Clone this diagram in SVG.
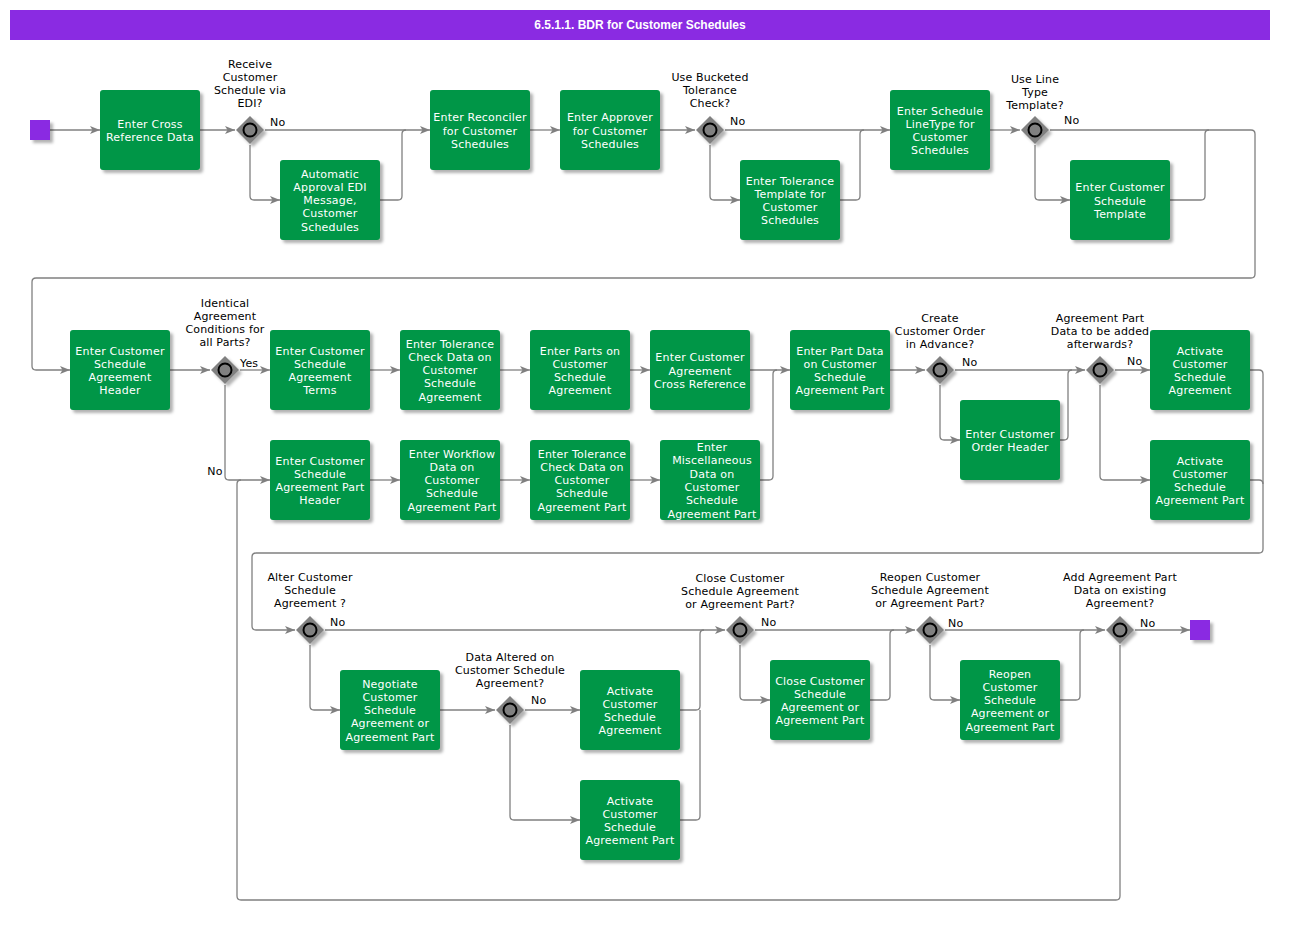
<svg xmlns="http://www.w3.org/2000/svg" width="1305" height="931" viewBox="0 0 1305 931">
<defs>
<style>
.node rect{fill:#009647;}
.nt{font-family:"DejaVu Sans",Verdana,sans-serif;font-size:11px;letter-spacing:0.2px;fill:#ffffff;text-anchor:middle;}
.lb{font-family:"DejaVu Sans",Verdana,sans-serif;font-size:11px;letter-spacing:0.15px;fill:#000000;text-anchor:middle;}
.ls{font-family:"DejaVu Sans",Verdana,sans-serif;font-size:11px;letter-spacing:0.15px;fill:#000000;text-anchor:start;}
.gw polygon{fill:#808080;}
.gw circle{fill:#808080;stroke:#000000;stroke-width:2;}
.ev{fill:#8A2BE2;}
#connectors path{fill:none;stroke:#808080;stroke-width:1.3;}
.a{marker-end:url(#arr);}
</style>
<filter id="sh" x="-20%" y="-20%" width="150%" height="150%">
<feDropShadow dx="3" dy="3" stdDeviation="1.8" flood-color="#000" flood-opacity="0.3"/>
</filter>
<marker id="arr" viewBox="0 0 10 8" refX="10" refY="4" markerWidth="10" markerHeight="8" markerUnits="userSpaceOnUse" orient="auto">
<path d="M0,0 L10,4 L0,8 L2.5,4 z" fill="#808080"/>
</marker>
</defs>
<rect width="1305" height="931" fill="#ffffff"/>
<g id="title">
<rect x="10" y="10" width="1260" height="30" fill="#8A2BE2"/>
<text x="640" y="29" font-family="Liberation Sans,Arial,sans-serif" font-size="12" font-weight="bold" fill="#ffffff" text-anchor="middle">6.5.1.1. BDR for Customer Schedules</text>
</g>

<g id="connectors">
<path class="a" d="M50,130 H100"/>
<path class="a" d="M200,130 H235"/>
<path class="a" d="M265,130 H430"/>
<path class="a" d="M250,145 V196 Q250,200 254,200 H280"/>
<path d="M380,200 H398 Q402,200 402,196 V134 Q402,130 406,130"/>
<path class="a" d="M530,130 H560"/>
<path class="a" d="M660,130 H695"/>
<path class="a" d="M725,130 H890"/>
<path class="a" d="M710,145 V196 Q710,200 714,200 H740"/>
<path d="M840,200 H856 Q860,200 860,196 V134 Q860,130 864,130"/>
<path class="a" d="M990,130 H1020"/>
<path class="a" d="M1050,130 H1251 Q1255,130 1255,134 V274 Q1255,278 1251,278 H36 Q32,278 32,282 V366 Q32,370 36,370 H70"/>
<path class="a" d="M1035,145 V196 Q1035,200 1039,200 H1070"/>
<path d="M1170,200 H1201 Q1205,200 1205,196 V134 Q1205,130 1209,130"/>
<path class="a" d="M170,370 H210"/>
<path class="a" d="M240,370 H270"/>
<path class="a" d="M225,385 V476 Q225,480 229,480 H270"/>
<path class="a" d="M370,370 H400"/>
<path class="a" d="M500,370 H530"/>
<path class="a" d="M630,370 H650"/>
<path class="a" d="M750,370 H790"/>
<path class="a" d="M370,480 H400"/>
<path class="a" d="M500,480 H530"/>
<path class="a" d="M630,480 H660"/>
<path d="M760,480 H769 Q773,480 773,476 V374 Q773,370 777,370"/>
<path class="a" d="M890,370 H925"/>
<path class="a" d="M955,370 H1085"/>
<path class="a" d="M940,385 V436 Q940,440 944,440 H960"/>
<path d="M1060,440 H1064 Q1068,440 1068,436 V374 Q1068,370 1072,370"/>
<path class="a" d="M1115,370 H1150"/>
<path class="a" d="M1100,385 V476 Q1100,480 1104,480 H1150"/>
<path class="a" d="M1250,370 H1259 Q1263,370 1263,374 V549 Q1263,553 1259,553 H256 Q252,553 252,557 V626 Q252,630 256,630 H295"/>
<path d="M1250,480 H1259 Q1263,480 1263,484"/>
<path class="a" d="M325,630 H725"/>
<path class="a" d="M310,645 V706 Q310,710 314,710 H340"/>
<path class="a" d="M440,710 H495"/>
<path class="a" d="M525,710 H580"/>
<path class="a" d="M510,725 V816 Q510,820 514,820 H580"/>
<path d="M680,710 H696 Q700,710 700,706 V634 Q700,630 704,630"/>
<path d="M680,820 H696 Q700,820 700,816 V710"/>
<path class="a" d="M755,630 H915"/>
<path class="a" d="M740,645 V696 Q740,700 744,700 H770"/>
<path d="M870,700 H886 Q890,700 890,696 V634 Q890,630 894,630"/>
<path class="a" d="M945,630 H1105"/>
<path class="a" d="M930,645 V696 Q930,700 934,700 H960"/>
<path d="M1060,700 H1076 Q1080,700 1080,696 V634 Q1080,630 1084,630"/>
<path class="a" d="M1135,630 H1190"/>
<path d="M1120,645 V896 Q1120,900 1116,900 H241 Q237,900 237,896 V484 Q237,480 241,480"/>
</g>

<g id="connector-labels">
<text class="ls" x="270" y="126">No</text>
<text class="ls" x="730" y="125">No</text>
<text class="ls" x="1064" y="124">No</text>
<text class="ls" x="240" y="367">Yes</text>
<text class="lb" x="215" y="475">No</text>
<text class="ls" x="962" y="366">No</text>
<text class="ls" x="1127" y="365">No</text>
<text class="ls" x="330" y="626">No</text>
<text class="ls" x="531" y="704">No</text>
<text class="ls" x="761" y="626">No</text>
<text class="ls" x="948" y="627">No</text>
<text class="ls" x="1140" y="627">No</text>
</g>

<g id="start"><rect class="ev" x="30" y="120" width="20" height="20" filter="url(#sh)"/></g>
<g id="end"><rect class="ev" x="1190" y="620" width="20" height="20" filter="url(#sh)"/></g>

<g id="n1" class="node"><rect x="100" y="90" width="100" height="80" rx="3" filter="url(#sh)"/>
<text class="nt" x="150" y="128">Enter Cross</text><text class="nt" x="150" y="141">Reference Data</text></g>
<g id="g1" class="gw"><polygon points="250,116 264,130 250,144 236,130" filter="url(#sh)"/><circle cx="250" cy="130" r="6.5"/>
<text class="lb" x="250" y="68">Receive</text><text class="lb" x="250" y="81">Customer</text><text class="lb" x="250" y="94">Schedule via</text><text class="lb" x="250" y="107">EDI?</text></g>
<g id="n2" class="node"><rect x="280" y="160" width="100" height="80" rx="3" filter="url(#sh)"/>
<text class="nt" x="330" y="177.5">Automatic</text><text class="nt" x="330" y="190.8">Approval EDI</text><text class="nt" x="330" y="204.1">Message,</text><text class="nt" x="330" y="217.4">Customer</text><text class="nt" x="330" y="230.7">Schedules</text></g>
<g id="n3" class="node"><rect x="430" y="90" width="100" height="80" rx="3" filter="url(#sh)"/>
<text class="nt" x="480" y="121.2">Enter Reconciler</text><text class="nt" x="480" y="134.5">for Customer</text><text class="nt" x="480" y="147.8">Schedules</text></g>
<g id="n4" class="node"><rect x="560" y="90" width="100" height="80" rx="3" filter="url(#sh)"/>
<text class="nt" x="610" y="121.2">Enter Approver</text><text class="nt" x="610" y="134.5">for Customer</text><text class="nt" x="610" y="147.8">Schedules</text></g>
<g id="g2" class="gw"><polygon points="710,116 724,130 710,144 696,130" filter="url(#sh)"/><circle cx="710" cy="130" r="6.5"/>
<text class="lb" x="710" y="81">Use Bucketed</text><text class="lb" x="710" y="94">Tolerance</text><text class="lb" x="710" y="107">Check?</text></g>
<g id="n5" class="node"><rect x="740" y="160" width="100" height="80" rx="3" filter="url(#sh)"/>
<text class="nt" x="790" y="184.5">Enter Tolerance</text><text class="nt" x="790" y="197.8">Template for</text><text class="nt" x="790" y="211.1">Customer</text><text class="nt" x="790" y="224.4">Schedules</text></g>
<g id="n6" class="node"><rect x="890" y="90" width="100" height="80" rx="3" filter="url(#sh)"/>
<text class="nt" x="940" y="114.5">Enter Schedule</text><text class="nt" x="940" y="127.8">LineType for</text><text class="nt" x="940" y="141.1">Customer</text><text class="nt" x="940" y="154.4">Schedules</text></g>
<g id="g3" class="gw"><polygon points="1035,116 1049,130 1035,144 1021,130" filter="url(#sh)"/><circle cx="1035" cy="130" r="6.5"/>
<text class="lb" x="1035" y="83">Use Line</text><text class="lb" x="1035" y="96">Type</text><text class="lb" x="1035" y="109">Template?</text></g>
<g id="n7" class="node"><rect x="1070" y="160" width="100" height="80" rx="3" filter="url(#sh)"/>
<text class="nt" x="1120" y="191.2">Enter Customer</text><text class="nt" x="1120" y="204.5">Schedule</text><text class="nt" x="1120" y="217.8">Template</text></g>

<g id="n8" class="node"><rect x="70" y="330" width="100" height="80" rx="3" filter="url(#sh)"/>
<text class="nt" x="120" y="354.5">Enter Customer</text><text class="nt" x="120" y="367.8">Schedule</text><text class="nt" x="120" y="381.1">Agreement</text><text class="nt" x="120" y="394.4">Header</text></g>
<g id="g4" class="gw"><polygon points="225,356 239,370 225,384 211,370" filter="url(#sh)"/><circle cx="225" cy="370" r="6.5"/>
<text class="lb" x="225" y="307">Identical</text><text class="lb" x="225" y="320">Agreement</text><text class="lb" x="225" y="333">Conditions for</text><text class="lb" x="225" y="346">all Parts?</text></g>
<g id="n9" class="node"><rect x="270" y="330" width="100" height="80" rx="3" filter="url(#sh)"/>
<text class="nt" x="320" y="354.5">Enter Customer</text><text class="nt" x="320" y="367.8">Schedule</text><text class="nt" x="320" y="381.1">Agreement</text><text class="nt" x="320" y="394.4">Terms</text></g>
<g id="n10" class="node"><rect x="400" y="330" width="100" height="80" rx="3" filter="url(#sh)"/>
<text class="nt" x="450" y="347.5">Enter Tolerance</text><text class="nt" x="450" y="360.8">Check Data on</text><text class="nt" x="450" y="374.1">Customer</text><text class="nt" x="450" y="387.4">Schedule</text><text class="nt" x="450" y="400.7">Agreement</text></g>
<g id="n11" class="node"><rect x="530" y="330" width="100" height="80" rx="3" filter="url(#sh)"/>
<text class="nt" x="580" y="354.5">Enter Parts on</text><text class="nt" x="580" y="367.8">Customer</text><text class="nt" x="580" y="381.1">Schedule</text><text class="nt" x="580" y="394.4">Agreement</text></g>
<g id="n12" class="node"><rect x="650" y="330" width="100" height="80" rx="3" filter="url(#sh)"/>
<text class="nt" x="700" y="361.2">Enter Customer</text><text class="nt" x="700" y="374.5">Agreement</text><text class="nt" x="700" y="387.8">Cross Reference</text></g>
<g id="n13" class="node"><rect x="790" y="330" width="100" height="80" rx="3" filter="url(#sh)"/>
<text class="nt" x="840" y="354.5">Enter Part Data</text><text class="nt" x="840" y="367.8">on Customer</text><text class="nt" x="840" y="381.1">Schedule</text><text class="nt" x="840" y="394.4">Agreement Part</text></g>
<g id="g5" class="gw"><polygon points="940,356 954,370 940,384 926,370" filter="url(#sh)"/><circle cx="940" cy="370" r="6.5"/>
<text class="lb" x="940" y="322">Create</text><text class="lb" x="940" y="335">Customer Order</text><text class="lb" x="940" y="348">in Advance?</text></g>
<g id="n14" class="node"><rect x="960" y="400" width="100" height="80" rx="3" filter="url(#sh)"/>
<text class="nt" x="1010" y="438">Enter Customer</text><text class="nt" x="1010" y="451">Order Header</text></g>
<g id="g6" class="gw"><polygon points="1100,356 1114,370 1100,384 1086,370" filter="url(#sh)"/><circle cx="1100" cy="370" r="6.5"/>
<text class="lb" x="1100" y="322">Agreement Part</text><text class="lb" x="1100" y="335">Data to be added</text><text class="lb" x="1100" y="348">afterwards?</text></g>
<g id="n15" class="node"><rect x="1150" y="330" width="100" height="80" rx="3" filter="url(#sh)"/>
<text class="nt" x="1200" y="354.5">Activate</text><text class="nt" x="1200" y="367.8">Customer</text><text class="nt" x="1200" y="381.1">Schedule</text><text class="nt" x="1200" y="394.4">Agreement</text></g>
<g id="n16" class="node"><rect x="1150" y="440" width="100" height="80" rx="3" filter="url(#sh)"/>
<text class="nt" x="1200" y="464.5">Activate</text><text class="nt" x="1200" y="477.8">Customer</text><text class="nt" x="1200" y="491.1">Schedule</text><text class="nt" x="1200" y="504.4">Agreement Part</text></g>
<g id="n17" class="node"><rect x="270" y="440" width="100" height="80" rx="3" filter="url(#sh)"/>
<text class="nt" x="320" y="464.5">Enter Customer</text><text class="nt" x="320" y="477.8">Schedule</text><text class="nt" x="320" y="491.1">Agreement Part</text><text class="nt" x="320" y="504.4">Header</text></g>
<g id="n18" class="node"><rect x="400" y="440" width="100" height="80" rx="3" filter="url(#sh)"/>
<text class="nt" x="452" y="457.5">Enter Workflow</text><text class="nt" x="452" y="470.8">Data on</text><text class="nt" x="452" y="484.1">Customer</text><text class="nt" x="452" y="497.4">Schedule</text><text class="nt" x="452" y="510.7">Agreement Part</text></g>
<g id="n19" class="node"><rect x="530" y="440" width="100" height="80" rx="3" filter="url(#sh)"/>
<text class="nt" x="582" y="457.5">Enter Tolerance</text><text class="nt" x="582" y="470.8">Check Data on</text><text class="nt" x="582" y="484.1">Customer</text><text class="nt" x="582" y="497.4">Schedule</text><text class="nt" x="582" y="510.7">Agreement Part</text></g>
<g id="n20" class="node"><rect x="660" y="440" width="100" height="80" rx="3" filter="url(#sh)"/>
<text class="nt" x="712" y="451">Enter</text><text class="nt" x="712" y="464.3">Miscellaneous</text><text class="nt" x="712" y="477.6">Data on</text><text class="nt" x="712" y="490.9">Customer</text><text class="nt" x="712" y="504.2">Schedule</text><text class="nt" x="712" y="517.5">Agreement Part</text></g>

<g id="g7" class="gw"><polygon points="310,616 324,630 310,644 296,630" filter="url(#sh)"/><circle cx="310" cy="630" r="6.5"/>
<text class="lb" x="310" y="581">Alter Customer</text><text class="lb" x="310" y="594">Schedule</text><text class="lb" x="310" y="607">Agreement ?</text></g>
<g id="n21" class="node"><rect x="340" y="670" width="100" height="80" rx="3" filter="url(#sh)"/>
<text class="nt" x="390" y="687.5">Negotiate</text><text class="nt" x="390" y="700.8">Customer</text><text class="nt" x="390" y="714.1">Schedule</text><text class="nt" x="390" y="727.4">Agreement or</text><text class="nt" x="390" y="740.7">Agreement Part</text></g>
<g id="g8" class="gw"><polygon points="510,696 524,710 510,724 496,710" filter="url(#sh)"/><circle cx="510" cy="710" r="6.5"/>
<text class="lb" x="510" y="661">Data Altered on</text><text class="lb" x="510" y="674">Customer Schedule</text><text class="lb" x="510" y="687">Agreement?</text></g>
<g id="n22" class="node"><rect x="580" y="670" width="100" height="80" rx="3" filter="url(#sh)"/>
<text class="nt" x="630" y="694.5">Activate</text><text class="nt" x="630" y="707.8">Customer</text><text class="nt" x="630" y="721.1">Schedule</text><text class="nt" x="630" y="734.4">Agreement</text></g>
<g id="n23" class="node"><rect x="580" y="780" width="100" height="80" rx="3" filter="url(#sh)"/>
<text class="nt" x="630" y="804.5">Activate</text><text class="nt" x="630" y="817.8">Customer</text><text class="nt" x="630" y="831.1">Schedule</text><text class="nt" x="630" y="844.4">Agreement Part</text></g>
<g id="g9" class="gw"><polygon points="740,616 754,630 740,644 726,630" filter="url(#sh)"/><circle cx="740" cy="630" r="6.5"/>
<text class="lb" x="740" y="582">Close Customer</text><text class="lb" x="740" y="595">Schedule Agreement</text><text class="lb" x="740" y="608">or Agreement Part?</text></g>
<g id="n24" class="node"><rect x="770" y="660" width="100" height="80" rx="3" filter="url(#sh)"/>
<text class="nt" x="820" y="684.5">Close Customer</text><text class="nt" x="820" y="697.8">Schedule</text><text class="nt" x="820" y="711.1">Agreement or</text><text class="nt" x="820" y="724.4">Agreement Part</text></g>
<g id="g10" class="gw"><polygon points="930,616 944,630 930,644 916,630" filter="url(#sh)"/><circle cx="930" cy="630" r="6.5"/>
<text class="lb" x="930" y="581">Reopen Customer</text><text class="lb" x="930" y="594">Schedule Agreement</text><text class="lb" x="930" y="607">or Agreement Part?</text></g>
<g id="n25" class="node"><rect x="960" y="660" width="100" height="80" rx="3" filter="url(#sh)"/>
<text class="nt" x="1010" y="677.5">Reopen</text><text class="nt" x="1010" y="690.8">Customer</text><text class="nt" x="1010" y="704.1">Schedule</text><text class="nt" x="1010" y="717.4">Agreement or</text><text class="nt" x="1010" y="730.7">Agreement Part</text></g>
<g id="g11" class="gw"><polygon points="1120,616 1134,630 1120,644 1106,630" filter="url(#sh)"/><circle cx="1120" cy="630" r="6.5"/>
<text class="lb" x="1120" y="581">Add Agreement Part</text><text class="lb" x="1120" y="594">Data on existing</text><text class="lb" x="1120" y="607">Agreement?</text></g>
</svg>
